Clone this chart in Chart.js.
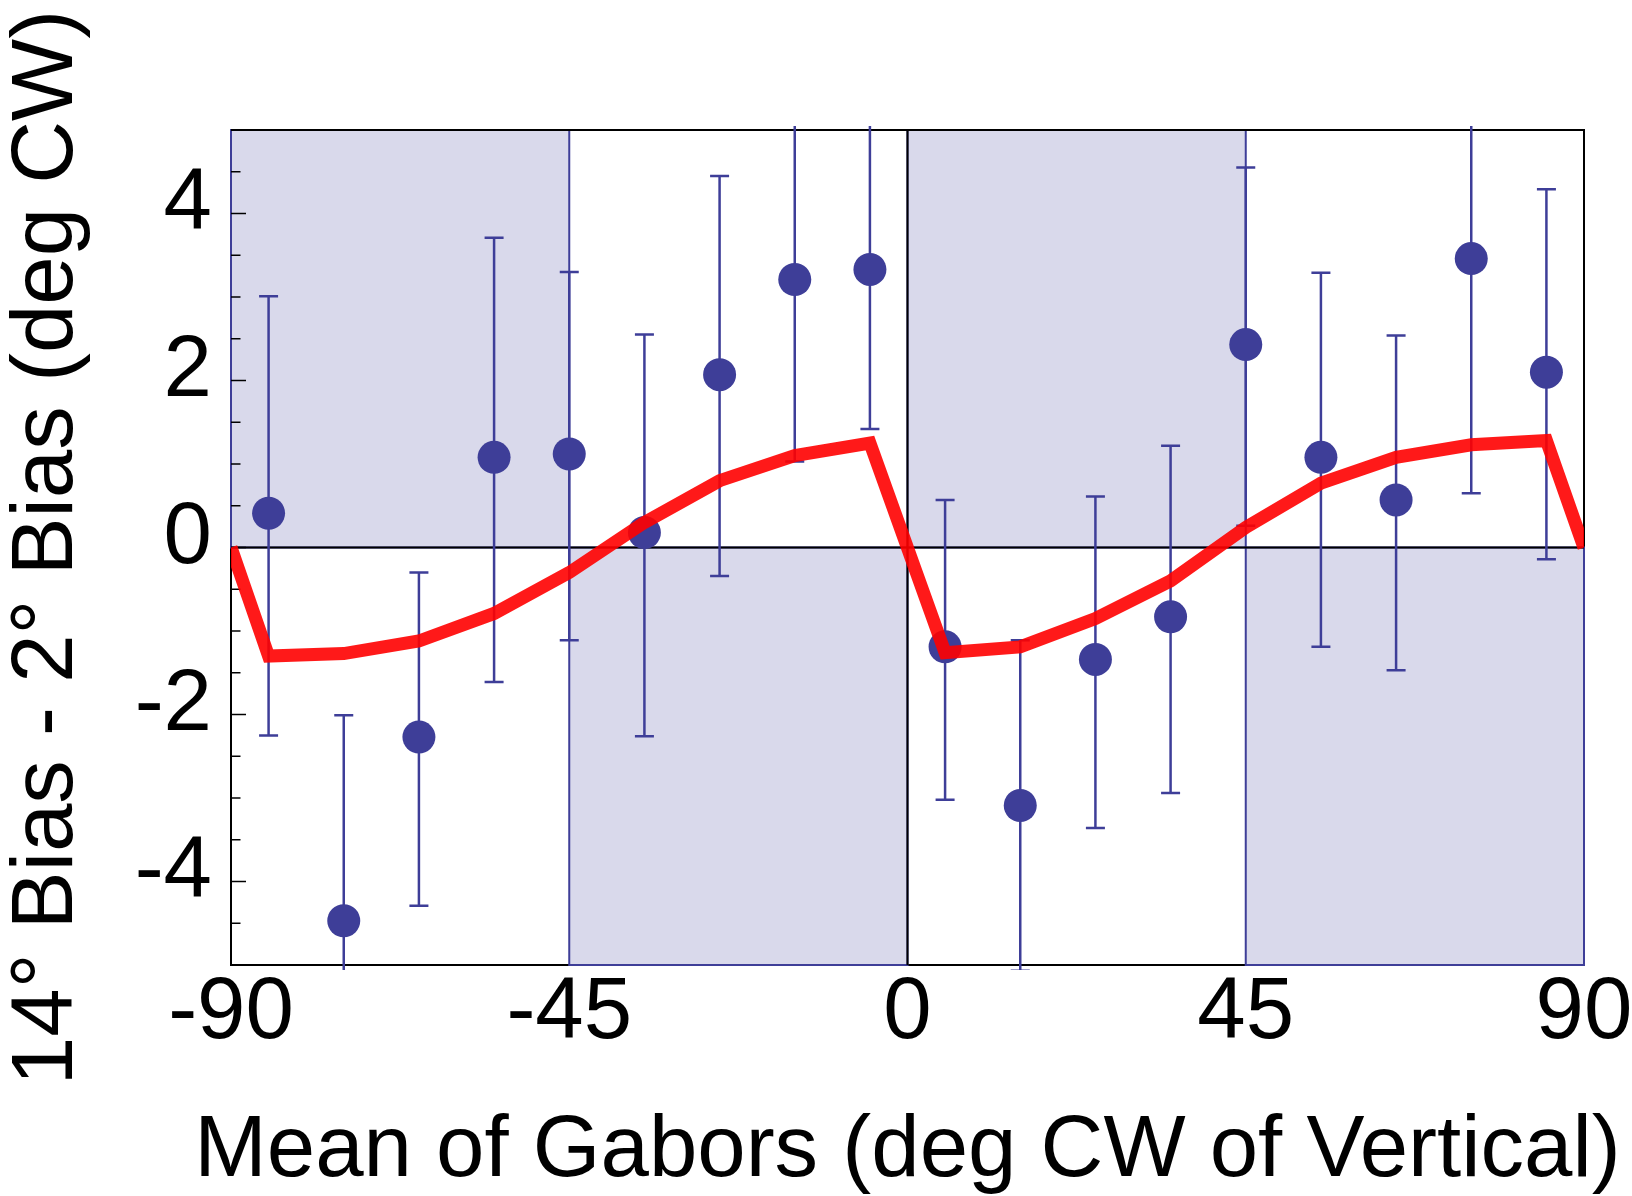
<!DOCTYPE html>
<html><head><meta charset="utf-8">
<script src="https://cdn.jsdelivr.net/npm/chart.js@4.4.1/dist/chart.umd.min.js"></script>
<style>html,body{margin:0;padding:0;background:#fff;}#wrap{width:1632px;height:1196px;position:relative;}</style>
</head><body><div id="wrap"><canvas id="c"></canvas></div>
<script>
// ---- data ----
const meanOri   = [-85,-75,-65,-55,-45,-35,-25,-15,-5,5,15,25,35,45,55,65,75,85];
const biasDiff  = [0.41,-4.47,-2.27,1.08,1.12,0.18,2.07,3.21,3.33,-1.19,-3.09,-1.34,-0.83,2.43,1.08,0.57,3.46,2.10];
const errLow    = [-2.25,-6.93,-4.29,-1.61,-1.11,-2.26,-0.34,1.03,1.42,-3.02,-5.07,-3.36,-2.94,0.26,-1.19,-1.47,0.65,-0.14];
const errHigh   = [3.01,-2.01,-0.30,3.71,3.30,2.55,4.45,5.39,5.24,0.57,-1.11,0.61,1.22,4.55,3.29,2.54,6.27,4.29];
const fitOri    = [-90,-85,-75,-65,-55,-45,-35,-25,-15,-5,5,15,25,35,45,55,65,75,85,90];
const fitBias   = [0,-1.30,-1.27,-1.12,-0.79,-0.30,0.30,0.80,1.10,1.25,-1.26,-1.19,-0.85,-0.40,0.24,0.77,1.08,1.23,1.28,0];
const xTickValues = [-90,-45,0,45,90];
const yTickValues = [-4,-2,0,2,4];
const yMinorTickValues = [-4.5,-3.5,-3,-2.5,-1.5,-1,-0.5,0.5,1,1.5,2.5,3,3.5,4.5];
// shaded regions: [xFrom, xTo, yFrom, yTo]
const shadeRegions = [[-90,-45,0,5],[-45,0,-5,0],[0,45,0,5],[45,90,-5,0]];
const xTitle = 'Mean of Gabors (deg CW of Vertical)';
const yTitle = '14\u00B0 Bias - 2\u00B0 Bias (deg CW)';

// ---- styles ----
const NAVY = '#3e3e98';
const SHADE = '#d9d9eb';
const FONT = "'Liberation Sans', Arial, Helvetica, sans-serif";

const decor = {
  id: 'decor',
  beforeDatasetsDraw(chart) {
    const {ctx, chartArea: a, scales: {x, y}} = chart;
    ctx.save();
    // frame
    ctx.strokeStyle = '#000'; ctx.lineWidth = 2;
    ctx.strokeRect(a.left, a.top, a.right - a.left, a.bottom - a.top);
    // shaded regions
    shadeRegions.forEach(r => {
      const x0 = x.getPixelForValue(r[0]), x1 = x.getPixelForValue(r[1]);
      const y0 = y.getPixelForValue(r[2]), y1 = y.getPixelForValue(r[3]);
      ctx.fillStyle = SHADE;
      ctx.fillRect(x0, y1, x1 - x0, y0 - y1);
      ctx.strokeStyle = NAVY; ctx.lineWidth = 2;
      ctx.strokeRect(x0, y1, x1 - x0, y0 - y1);
    });
    // top edge of frame stays dark
    ctx.strokeStyle = '#000'; ctx.lineWidth = 2;
    ctx.beginPath(); ctx.moveTo(a.left, a.top); ctx.lineTo(a.right, a.top); ctx.stroke();
    // zero lines
    const zy = y.getPixelForValue(0), zx = x.getPixelForValue(0);
    ctx.beginPath(); ctx.moveTo(a.left, zy); ctx.lineTo(a.right, zy); ctx.stroke();
    ctx.beginPath(); ctx.moveTo(zx, a.top); ctx.lineTo(zx, a.bottom); ctx.stroke();
    // inward ticks on left axis
    ctx.lineWidth = 1.5;
    yTickValues.forEach(v => { const p = y.getPixelForValue(v); ctx.beginPath(); ctx.moveTo(a.left, p); ctx.lineTo(a.left + 15, p); ctx.stroke(); });
    yMinorTickValues.forEach(v => { const p = y.getPixelForValue(v); ctx.beginPath(); ctx.moveTo(a.left, p); ctx.lineTo(a.left + 9.5, p); ctx.stroke(); });
    // error bars
    ctx.beginPath();
    ctx.rect(a.left, a.top - 4, a.right - a.left, a.bottom - a.top + 9);
    ctx.clip();
    ctx.strokeStyle = NAVY; ctx.lineWidth = 2.5;
    meanOri.forEach((m, i) => {
      const px = x.getPixelForValue(m);
      const lo = y.getPixelForValue(errLow[i]), hi = y.getPixelForValue(errHigh[i]);
      ctx.beginPath(); ctx.moveTo(px, lo); ctx.lineTo(px, hi); ctx.stroke();
      ctx.beginPath(); ctx.moveTo(px - 9.5, lo); ctx.lineTo(px + 9.5, lo);
      ctx.moveTo(px - 9.5, hi); ctx.lineTo(px + 9.5, hi); ctx.stroke();
    });
    ctx.restore();
  },
  afterDraw(chart) {
    const {ctx, chartArea: a} = chart;
    ctx.save();
    ctx.fillStyle = '#000';
    ctx.font = '87px ' + FONT;
    ctx.textAlign = 'center';
    ctx.textBaseline = 'alphabetic';
    ctx.fillText(xTitle, (a.left + a.right) / 2, 1176);
    ctx.restore();
  }
};

Chart.defaults.font.family = FONT;
Chart.defaults.color = '#000';

new Chart(document.getElementById('c'), {
  type: 'scatter',
  data: {
    datasets: [
      {
        type: 'line',
        data: fitOri.map((v, i) => ({x: v, y: fitBias[i]})),
        borderColor: 'rgba(255,0,0,0.9)',
        borderWidth: 13,
        borderJoinStyle: 'miter',
        pointRadius: 0,
        tension: 0,
        fill: false,
        clip: 0,
        order: 1
      },
      {
        data: meanOri.map((v, i) => ({x: v, y: biasDiff[i]})),
        backgroundColor: NAVY,
        borderWidth: 0,
        pointRadius: 16.5,
        pointHoverRadius: 16.5,
        order: 2
      }
    ]
  },
  options: {
    responsive: true,
    maintainAspectRatio: false,
    animation: false,
    events: [],
    layout: {padding: {left: 0, right: 48, top: 130, bottom: 0}},
    plugins: {legend: {display: false}, tooltip: {enabled: false}},
    scales: {
      x: {
        type: 'linear', min: -90, max: 90,
        grid: {display: false, drawTicks: false},
        border: {display: false},
        afterBuildTicks: s => { s.ticks = xTickValues.map(v => ({value: v})); },
        afterFit: s => { s.height = 231; s.paddingLeft = 0; s.paddingRight = 0; },
        ticks: {font: {size: 87, lineHeight: 1}, padding: 5.5, maxRotation: 0, autoSkip: false, color: '#000'},
        title: {display: false}
      },
      y: {
        type: 'linear', min: -5, max: 5,
        grid: {display: false, drawTicks: false},
        border: {display: false},
        afterBuildTicks: s => { s.ticks = yTickValues.map(v => ({value: v})); },
        afterFit: s => { s.width = 231; s.paddingTop = 0; s.paddingBottom = 0; },
        ticks: {font: {size: 87, lineHeight: 1}, padding: 19, labelOffset: -8, autoSkip: false, color: '#000'},
        title: {display: true, text: yTitle, font: {size: 87, lineHeight: 1}, padding: {top: 4.5, bottom: 0}, color: '#000'}
      }
    }
  },
  plugins: [decor]
});
</script></body></html>
